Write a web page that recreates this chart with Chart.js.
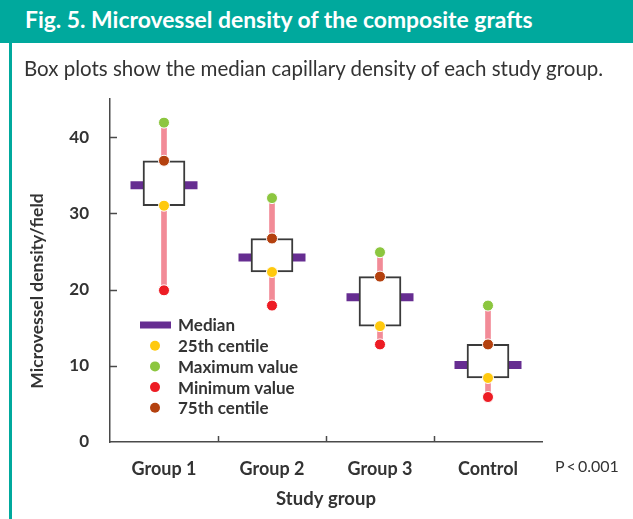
<!DOCTYPE html>
<html>
<head>
<meta charset="utf-8">
<script src="https://cdn.jsdelivr.net/npm/chart.js@4.4.1/dist/chart.umd.min.js"></script>
<style>
  body { margin: 0; background: #fff; overflow: hidden; }
  #page { position: relative; width: 633px; height: 519px; }
  #chart { position: absolute; left: 0; top: 0; }
  #header { position: absolute; left: 0; top: 0; width: 633px; height: 43px; background: #00a99d; }
  #title { position: absolute; left: 25px; top: 8px; font: bold 22.9px/22.9px Lato, sans-serif; color: #fff; white-space: nowrap; }
  #strip { position: absolute; left: 9px; top: 43px; width: 3px; height: 476px; background: #00a99d; }
  #subtitle { position: absolute; left: 24px; top: 57.8px; font: 20.5px/20.5px Lato, sans-serif; color: #333; white-space: nowrap; }
</style>
</head>
<body>
<div id="page">
  <canvas id="chart" width="633" height="519"></canvas>
  <div id="header"><div id="title">Fig. 5. Microvessel density of the composite grafts</div></div>
  <div id="strip"></div>
  <div id="subtitle">Box plots show the median capillary density of each study group.</div>
</div>
<script>
// values
const groups = ['Group 1', 'Group 2', 'Group 3', 'Control'];
const maxValues = [41.9, 32.0, 24.9, 17.9];
const q3Values = [36.9, 26.7, 21.7, 12.8];
const medianValues = [33.7, 24.2, 19.0, 10.1];
const q1Values = [31.0, 22.3, 15.2, 8.4];
const minValues = [19.9, 17.9, 12.8, 5.9];
const yTicks = [0, 10, 20, 30, 40];

const textColor = '#333';
const axisColor = '#4a4a4a';
const purple = '#662d91';

function pointSet(label, data, color) {
    return {
        type: 'line',
        label: label,
        data: data,
        showLine: false,
        pointRadius: 5.5,
        pointHoverRadius: 5.5,
        pointBackgroundColor: color,
        pointBorderColor: '#fff',
        pointBorderWidth: 1,
        order: 1,
        inLegend: true
    };
}

// inward tick marks, y title, legend and p value
const decor = {
    id: 'decor',
    afterDraw(chart) {
        const { ctx, chartArea: a, scales: { x, y } } = chart;
        ctx.save();
        ctx.strokeStyle = axisColor;
        ctx.lineWidth = 1.5;
        yTicks.slice(1).forEach(v => {
            const py = Math.round(y.getPixelForValue(v)) + 0.5;
            ctx.beginPath();
            ctx.moveTo(a.left, py);
            ctx.lineTo(a.left + 7, py);
            ctx.stroke();
        });
        for (let i = 0; i < groups.length - 1; i++) {
            const px = Math.round((x.getPixelForValue(i) + x.getPixelForValue(i + 1)) / 2) + 0.5;
            ctx.beginPath();
            ctx.moveTo(px, a.bottom);
            ctx.lineTo(px, a.bottom - 6);
            ctx.stroke();
        }

        // y axis title
        ctx.fillStyle = textColor;
        ctx.font = 'bold 17.5px Lato, sans-serif';
        ctx.textAlign = 'center';
        ctx.textBaseline = 'middle';
        ctx.save();
        ctx.translate(37, 291);
        ctx.rotate(-Math.PI / 2);
        ctx.fillText('Microvessel density/field', 0, 0);
        ctx.restore();

        // p value
        ctx.font = '16px Lato, sans-serif';
        ctx.textAlign = 'left';
        ctx.fillText('P\u2009<\u20090.001', 555, 467);

        // legend
        ctx.font = 'bold 17px Lato, sans-serif';
        const items = chart.data.datasets.filter(d => d.inLegend);
        items.forEach((d, i) => {
            const cy = 325 + i * 20.7;
            if (d.pointStyle === 'line') {
                ctx.fillStyle = d.pointBorderColor;
                ctx.fillRect(140, cy - 3.5, 31, 7);
            } else {
                ctx.fillStyle = d.pointBackgroundColor;
                ctx.beginPath();
                ctx.arc(155, cy, 5, 0, Math.PI * 2);
                ctx.fill();
            }
            ctx.fillStyle = textColor;
            ctx.fillText(d.label, 178, cy + 1);
        });
        ctx.restore();
    }
};

const chart = new Chart(document.getElementById('chart').getContext('2d'), {
    type: 'bar',
    data: {
        labels: groups,
        datasets: [
            {
                type: 'line',
                label: 'Median',
                data: medianValues,
                showLine: false,
                pointStyle: 'line',
                pointRadius: 33.5,
                pointHoverRadius: 33.5,
                pointBorderColor: purple,
                pointBorderWidth: 8,
                order: 5,
                inLegend: true
            },
            pointSet('25th centile', q1Values, '#ffc90e'),
            pointSet('Maximum value', maxValues, '#8cc63f'),
            pointSet('Minimum value', minValues, '#ed1c24'),
            pointSet('75th centile', q3Values, '#b4410f'),
            {
                type: 'bar',
                label: 'Range',
                data: minValues.map((v, i) => [v, maxValues[i]]),
                backgroundColor: '#f28b97',
                barThickness: 5,
                grouped: false,
                order: 4
            },
            {
                type: 'bar',
                label: 'Box',
                data: q1Values.map((v, i) => [v, q3Values[i]]),
                backgroundColor: '#fff',
                borderColor: '#3a3a3a',
                borderWidth: 2,
                borderSkipped: false,
                barThickness: 42,
                grouped: false,
                order: 3
            }
        ]
    },
    options: {
        responsive: false,
        animation: false,
        events: [],
        layout: { padding: { top: 99, right: 91, left: 0, bottom: 0 } },
        plugins: {
            legend: { display: false },
            tooltip: { enabled: false }
        },
        scales: {
            x: {
                type: 'category',
                offset: true,
                grid: { display: false },
                border: { display: true, color: axisColor, width: 1.5 },
                ticks: { color: textColor, font: { family: 'Lato', size: 18, weight: 'bold' }, padding: 8 },
                title: {
                    display: true,
                    text: 'Study group',
                    color: textColor,
                    font: { family: 'Lato', size: 18.5, weight: 'bold' },
                    padding: { top: 0, bottom: 9 }
                },
                afterFit: function(scale) { scale.height = 77; }
            },
            y: {
                min: 0,
                max: 45,
                grid: { display: false },
                border: { display: true, color: axisColor, width: 1.5 },
                ticks: { color: textColor, font: { family: 'Lato', size: 17, weight: 'bold' }, padding: 13 },
                afterBuildTicks: function(scale) { scale.ticks = yTicks.map(v => ({ value: v })); },
                afterFit: function(scale) { scale.width = 110; }
            }
        }
    },
    plugins: [decor]
});
</script>
</body>
</html>
